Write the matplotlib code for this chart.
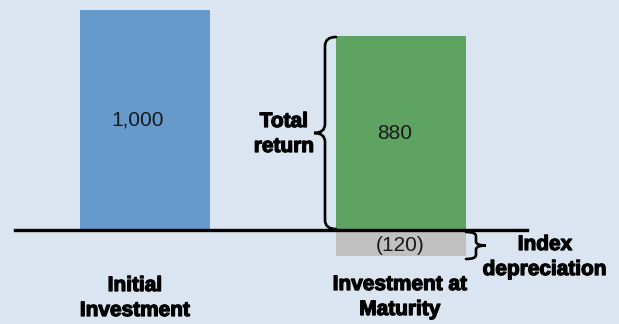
import matplotlib
matplotlib.use("Agg")
import matplotlib.pyplot as plt
import matplotlib.patheffects as pe
from matplotlib.path import Path
from matplotlib.patches import PathPatch

# Values
categories = ["Initial\nInvestment", "Investment at\nMaturity"]
initial_value = 1000
maturity_value = 880
index_change = -120

BG = "#DBE5F1"
BLUE = "#6699CC"
GREEN = "#5FA362"
GREY = "#C0C0C0"

W, H = 619, 324
fig = plt.figure(figsize=(W / 100, H / 100), dpi=100, facecolor=BG)
ax = fig.add_axes([0, 0, 1, 1])
ax.set_facecolor(BG)

# pixel <-> data mapping (pixels measured from the top-left corner)
X_UNIT = 255.5      # pixels per category step
Y_UNIT = 0.22       # pixels per value unit
X0_PX = 145         # centre of first bar
BASE_PX = 230       # baseline row

ax.set_xlim(-X0_PX / X_UNIT, (W - X0_PX) / X_UNIT)
ax.set_ylim(-(H - BASE_PX) / Y_UNIT, BASE_PX / Y_UNIT)
ax.axis("off")


def px(xp, yp):
    return (xp - X0_PX) / X_UNIT, (BASE_PX - yp) / Y_UNIT


bar_w = 130 / X_UNIT
xpos = [0, 1.0]

ax.bar(xpos[0], initial_value, width=bar_w, color=BLUE, zorder=2)
ax.bar(xpos[1], maturity_value, width=bar_w, color=GREEN, zorder=2)
ax.bar(xpos[1], index_change, width=bar_w, color=GREY, zorder=2)

# baseline
ax.axhline(0, xmin=15 / W, xmax=527 / W, color="black", lw=2.4, zorder=3)

FONT = "Liberation Sans"
PT = 0.72  # points per pixel at 100 dpi
num_kw = dict(ha="center", va="center", fontsize=15, family=FONT, color="#1a1a1a",
              textcoords="offset points", zorder=4)
ax.annotate(f"{initial_value:,}", (xpos[0], initial_value / 2), xytext=(-7 * PT, 0), **num_kw)
ax.annotate(f"{maturity_value:,}", (xpos[1], maturity_value / 2), xytext=(-6 * PT, 0), **num_kw)
ax.annotate(f"({abs(index_change):,})", (xpos[1], index_change / 2), xytext=(0, -2 * PT), **num_kw)

heavy = [pe.withStroke(linewidth=0.9, foreground="black")]
lab_kw = dict(ha="center", va="top", fontsize=15, family=FONT, fontweight="bold",
              color="black", linespacing=1.4, path_effects=heavy, zorder=4)
ax.text(*px(135, 276), categories[0], **lab_kw)
ax.text(*px(400, 275), categories[1], **lab_kw)
ax.text(*px(284, 112), "Total\nreturn", **lab_kw)
ax.text(*px(545, 235), "Index\ndepreciation", **lab_kw)


def brace(x_line, y_top, y_bot, end_dx, tip_dx, r):
    """Vertical curly brace in pixel coords; ends bend by end_dx, tip by tip_dx."""
    ym = (y_top + y_bot) / 2
    pts = [
        (x_line + end_dx, y_top),
        (x_line, y_top), (x_line, y_top + r),
        (x_line, ym - r),
        (x_line, ym), (x_line + tip_dx, ym),
        (x_line, ym), (x_line, ym + r),
        (x_line, y_bot - r),
        (x_line, y_bot), (x_line + end_dx, y_bot),
    ]
    codes = [Path.MOVETO,
             Path.CURVE3, Path.CURVE3,
             Path.LINETO,
             Path.CURVE3, Path.CURVE3,
             Path.CURVE3, Path.CURVE3,
             Path.LINETO,
             Path.CURVE3, Path.CURVE3]
    verts = [px(x, y) for x, y in pts]
    ax.add_patch(PathPatch(Path(verts, codes), fill=False, lw=1.9,
                           edgecolor="black", capstyle="round", zorder=4))


brace(325, 37, 229, 11, -11, 9)
brace(476, 232, 259, -10, 10, 4)

fig.savefig("out.png", dpi=100, facecolor=BG)
